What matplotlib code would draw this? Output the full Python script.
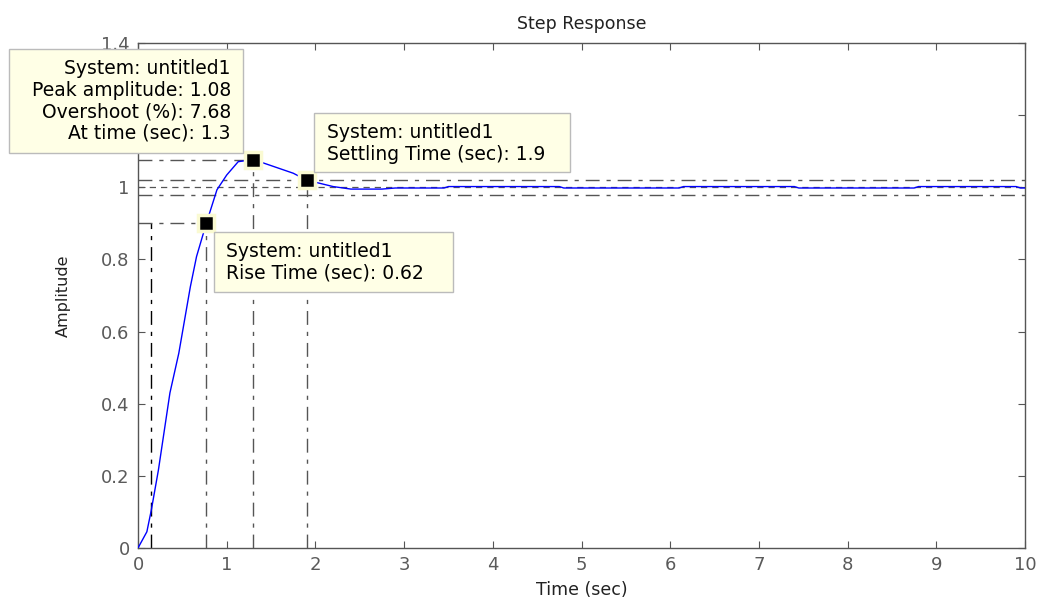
import matplotlib
matplotlib.use("Agg")
import matplotlib.pyplot as plt
from matplotlib.patches import Rectangle

plt.rcParams['font.family'] = ['DejaVu Sans']

# ---- data ----
t = [0, 0.1, 0.15, 0.23, 0.36, 0.46, 0.59, 0.66, 0.77, 0.89, 1.0, 1.13, 1.3,
     1.75, 1.9, 2.2, 2.4, 2.75, 2.9, 3.45, 3.5, 4.75, 4.8, 6.1, 6.15, 7.4, 7.45,
     8.75, 8.8, 9.9, 9.95, 10.0]
y = [0, 0.045, 0.105, 0.216, 0.43, 0.54, 0.724, 0.808, 0.9, 0.993, 1.034, 1.071, 1.077,
     1.039, 1.02, 1.002, 0.995, 0.995, 0.998, 0.998, 1.002, 1.002, 0.998, 0.998, 1.002, 1.002, 0.998,
     0.998, 1.002, 1.002, 0.998, 0.998]

rise_start, rise_end, rise_level = 0.15, 0.77, 0.9
peak_time, peak_amp = 1.3, 1.077
settle_time, settle_amp = 1.9, 1.02
settle_band = [0.98, 1.02]
steady_state = 1.0

x_ticks = [0, 1, 2, 3, 4, 5, 6, 7, 8, 9, 10]
y_ticks = [0, 0.2, 0.4, 0.6, 0.8, 1, 1.2, 1.4]
y_tick_labels = ['0', '0.2', '0.4', '0.6', '0.8', '1', '1.2', '1.4']

tip_peak = ["System: untitled1", "Peak amplitude: 1.08", "Overshoot (%): 7.68", "At time (sec): 1.3"]
tip_settle = ["System: untitled1", "Settling Time (sec): 1.9"]
tip_rise = ["System: untitled1", "Rise Time (sec): 0.62"]

# ---- figure ----
W, H = 1051, 601
fig = plt.figure(figsize=(W / 100, H / 100), dpi=100)
ax = fig.add_axes([138 / W, 1 - 548 / H, (1025 - 138) / W, (548 - 43) / H])

gray = '#555555'
dd = (0, (10, 5, 3, 5))

# settling band + steady state
for lvl in settle_band:
    ax.plot([0, 10], [lvl, lvl], color=gray, lw=1, linestyle=dd, zorder=1)
ax.plot([0, 10], [steady_state, steady_state], color=gray, lw=0.9, linestyle=(0, (5, 4)), zorder=1)

# rise time lines
ax.plot([rise_start, rise_start], [0, rise_level], color='black', lw=1, linestyle=dd, zorder=1)
ax.plot([rise_end, rise_end], [0, rise_level], color=gray, lw=1, linestyle=dd, zorder=1)
ax.plot([0, rise_end], [rise_level, rise_level], color=gray, lw=1, linestyle=dd, zorder=1)
# peak lines
ax.plot([peak_time, peak_time], [0, peak_amp], color=gray, lw=1, linestyle=dd, zorder=1)
ax.plot([0, peak_time], [peak_amp, peak_amp], color=gray, lw=1, linestyle=dd, zorder=1)
# settling line
ax.plot([settle_time, settle_time], [0, settle_amp], color=gray, lw=1, linestyle=dd, zorder=1)

# response curve
ax.plot(t, y, color='#0000ff', lw=1, zorder=3)

# markers
for mx, my in [(rise_end, rise_level), (peak_time, peak_amp), (settle_time, settle_amp)]:
    ax.plot([mx], [my], marker='s', markersize=11, markerfacecolor='black',
            markeredgecolor='#fafad2', markeredgewidth=2.5, zorder=5, clip_on=False)

ax.set_xlim(0, 10)
ax.set_ylim(0, 1.4)
ax.set_xticks(x_ticks)
ax.set_yticks(y_ticks)
ax.set_yticklabels(y_tick_labels)
ax.tick_params(direction='in', length=5, width=0.8, color=gray, labelcolor='#5a5a5a',
               labelsize=13, top=True, right=True, pad=6)
for s in ax.spines.values():
    s.set_color(gray)
    s.set_linewidth(1)

ax.set_title('Step Response', fontsize=12.5, color='#222222', pad=10)
ax.set_xlabel('Time (sec)', fontsize=12.5, color='#222222', labelpad=5)
ax.set_ylabel('Amplitude', fontsize=11.5, color='#222222', labelpad=22)

# ---- datatips (in figure pixel coordinates) ----
def box(x0, y0, x1, y1):
    fig.patches.append(Rectangle((x0 / W, 1 - y1 / H), (x1 - x0) / W, (y1 - y0) / H,
                                 transform=fig.transFigure, facecolor='#ffffe6',
                                 edgecolor='#bbbbbb', lw=1, zorder=10))

def lines(xp, ys, texts, ha):
    for yp, s in zip(ys, texts):
        fig.text(xp / W, 1 - yp / H, s, ha=ha, va='center', fontsize=13.5, color='black', zorder=11)

box(9, 49, 243, 153)
lines(231, [68, 90, 112, 133], tip_peak, 'right')
box(314, 113, 570, 172)
lines(327, [133, 155], tip_settle, 'left')
box(214, 232, 453, 292)
lines(226, [251, 273], tip_rise, 'left')

fig.savefig('out.png', dpi=100)
